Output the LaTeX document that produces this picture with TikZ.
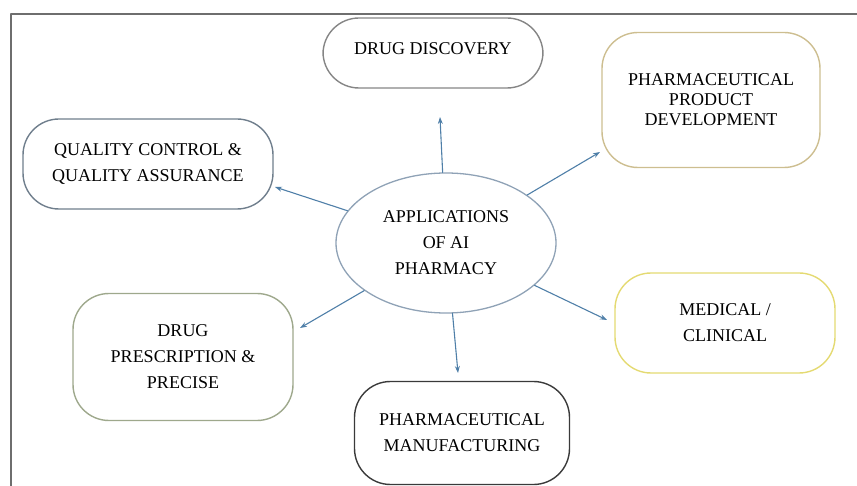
\documentclass[tikz,border=0pt]{standalone}
\usepackage{fontspec}
\setmainfont{Liberation Serif}
\usetikzlibrary{shapes.geometric,arrows.meta}

\definecolor{frameGray}{HTML}{6E6E6E}
\definecolor{linkBlue}{HTML}{4F7FA8}
\definecolor{hubBlue}{HTML}{8FA2B6}
\definecolor{discGray}{HTML}{858585}
\definecolor{devTan}{HTML}{CDBE90}
\definecolor{qualGray}{HTML}{6F7E8C}
\definecolor{prescGreen}{HTML}{9EA88C}
\definecolor{manuDark}{HTML}{3A3A3A}
\definecolor{medYellow}{HTML}{E4DA72}

\begin{document}
\begin{tikzpicture}[x=1pt, y=-1pt, >={Stealth[length=7pt,width=5pt]},
	font=\fontsize{18}{26}\selectfont, line join=round, line cap=round,
	box/.style={draw, line width=1.4pt, rounded corners=36pt, align=center, inner sep=0pt},
	hub/.style={ellipse, draw=hubBlue, line width=1.3pt, align=center, inner sep=0pt,
		minimum width=220pt, minimum height=140pt},
	link/.style={->, draw=linkBlue, line width=1.1pt}]
	\useasboundingbox (0,0) rectangle (857,486);
	% frame
	\draw[frameGray, line width=2pt, line cap=butt] (11,486) -- (11,14) -- (857,14);
	% centre
	\node[hub] (app) at (446,243) {APPLICATIONS\\OF AI\\PHARMACY};
	% branches
	\node[box, draw=discGray, minimum width=220pt, minimum height=70pt, text depth=9pt] (disc) at (433,53) {DRUG DISCOVERY};
	\node[box, draw=devTan, minimum width=218pt, minimum height=135pt,
		font=\fontsize{18}{20}\selectfont] (dev) at (711,100) {PHARMACEUTICAL\\PRODUCT\\DEVELOPMENT};
	\node[box, draw=qualGray, minimum width=250pt, minimum height=90pt] (qual) at (148,164) {QUALITY CONTROL \&\\QUALITY ASSURANCE};
	\node[box, draw=prescGreen, minimum width=220pt, minimum height=127pt] (presc) at (183,357) {DRUG\\PRESCRIPTION \&\\PRECISE};
	\node[box, draw=manuDark, minimum width=215pt, minimum height=103pt] (manu) at (462,433) {PHARMACEUTICAL\\MANUFACTURING};
	\node[box, draw=medYellow, minimum width=220pt, minimum height=100pt] (med) at (725,323) {MEDICAL /\\CLINICAL};
	% arrow ends
	\coordinate (tDisc) at (440,117);
	\coordinate (tDev) at (600,152);
	\coordinate (tQual) at (275,187);
	\coordinate (tPresc) at (300,328);
	\coordinate (tManu) at (458,373);
	\coordinate (tMed) at (607,320);
	\draw[link] (app) -- (tDisc);
	\draw[link] (app) -- (tDev);
	\draw[link] (app) -- (tQual);
	\draw[link] (app) -- (tPresc);
	\draw[link] (app) -- (tManu);
	\draw[link] (app) -- (tMed);
\end{tikzpicture}
\end{document}
